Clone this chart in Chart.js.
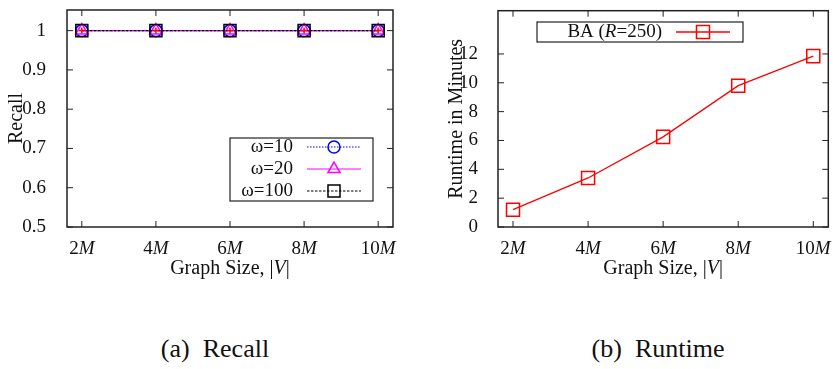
<!DOCTYPE html>
<html lang="en">
<head>
    <meta charset="UTF-8">
    <title>Recall and Runtime vs Graph Size</title>
    <script src="https://cdn.jsdelivr.net/npm/chart.js"></script>
    <style>
        body { margin: 0; background: #fff; width: 839px; height: 369px; position: relative; overflow: hidden; }
        .panel { position: absolute; top: 0; height: 300px; }
        .caption { position: absolute; top: 334px; font: 26px "Liberation Serif", "DejaVu Serif", serif; color: #111; text-align: center; width: 300px; }
    </style>
</head>
<body>

<div class="panel" style="left:0; width:420px;"><canvas id="recallChart" width="420" height="300"></canvas></div>
<div class="panel" style="left:420px; width:419px;"><canvas id="runtimeChart" width="419" height="300"></canvas></div>

<div class="caption" style="left:65px;">(a)&nbsp; Recall</div>
<div class="caption" style="left:508px;">(b)&nbsp; Runtime</div>

<script>
    // graph sizes (millions of vertices)
    const sizes = [2, 4, 6, 8, 10];
    const sizeTickLabels = ['2', '4', '6', '8', '10'];   // each followed by an italic M

    // recall for each window size
    const recallW10 = [1, 1, 1, 1, 1];
    const recallW20 = [1, 1, 1, 1, 1];
    const recallW100 = [1, 1, 1, 1, 1];
    const recallTicks = [0.5, 0.6, 0.7, 0.8, 0.9, 1];
    const recallTickLabels = ['0.5', '0.6', '0.7', '0.8', '0.9', '1'];

    // runtime of BA (R=250) in minutes
    const runtimeBA = [1.2, 3.4, 6.25, 9.8, 11.85];
    const runtimeTicks = [0, 2, 4, 6, 8, 10, 12];
    const runtimeTickLabels = ['0', '2', '4', '6', '8', '10', '12'];

    const FONT = '"Liberation Serif", "DejaVu Serif", serif';
    const INK = '#111';

    function pts(vals) {
        return sizes.map((s, i) => ({ x: s, y: vals[i] }));
    }

    // draw text made of normal / italic pieces
    function drawRuns(ctx, runs, x, y, align, size) {
        const fonts = runs.map(r => (r[1] ? 'italic ' : '') + size + 'px ' + FONT);
        const widths = runs.map((r, i) => { ctx.font = fonts[i]; return ctx.measureText(r[0]).width; });
        const total = widths.reduce((a, b) => a + b, 0);
        let cx = align === 'center' ? x - total / 2 : (align === 'right' ? x - total : x);
        ctx.textAlign = 'left';
        ctx.textBaseline = 'middle';
        ctx.fillStyle = INK;
        runs.forEach((r, i) => {
            ctx.font = fonts[i];
            ctx.fillText(r[0], cx, y);
            cx += widths[i];
        });
    }

    function marker(ctx, style, x, y, r, color) {
        ctx.save();
        ctx.strokeStyle = color;
        ctx.lineWidth = 1.5;
        ctx.setLineDash([]);
        ctx.beginPath();
        if (style === 'circle') {
            ctx.arc(x, y, r, 0, Math.PI * 2);
        } else if (style === 'rect') {
            const h = r * Math.SQRT1_2;
            ctx.rect(x - h, y - h, 2 * h, 2 * h);
        } else if (style === 'triangle') {
            const s = r * 3 / Math.sqrt(3);
            const hh = s * Math.sqrt(3) / 2;
            ctx.moveTo(x, y - 2 * hh / 3);
            ctx.lineTo(x + s / 2, y + hh / 3);
            ctx.lineTo(x - s / 2, y + hh / 3);
            ctx.closePath();
        }
        ctx.stroke();
        ctx.restore();
    }

    // gnuplot-like frame, inward ticks, italic labels, titles and boxed legend
    const gnuplotLook = {
        id: 'gnuplotLook',
        afterDraw(chart, args, opts) {
            const ctx = chart.ctx;
            const a = chart.chartArea;
            const xs = chart.scales.x, ys = chart.scales.y;
            ctx.save();

            ctx.strokeStyle = '#222';
            ctx.lineWidth = 1.5;
            ctx.strokeRect(a.left, a.top, a.right - a.left, a.bottom - a.top);

            ctx.lineWidth = 1;
            ctx.beginPath();
            sizes.forEach(s => {
                const px = xs.getPixelForValue(s);
                ctx.moveTo(px, a.bottom); ctx.lineTo(px, a.bottom - 6);
                ctx.moveTo(px, a.top); ctx.lineTo(px, a.top + 6);
            });
            ys.ticks.forEach(t => {
                const py = ys.getPixelForValue(t.value);
                ctx.moveTo(a.left, py); ctx.lineTo(a.left + 6, py);
                ctx.moveTo(a.right, py); ctx.lineTo(a.right - 6, py);
            });
            ctx.stroke();

            // x tick labels: number + italic M
            sizes.forEach((s, i) => {
                drawRuns(ctx, [[sizeTickLabels[i], false], ['M', true]], xs.getPixelForValue(s), a.bottom + 22, 'center', 19);
            });

            // x title
            drawRuns(ctx, [['Graph Size, |', false], ['V', true], ['|', false]], (a.left + a.right) / 2, a.bottom + 42, 'center', 20);

            // y title
            ctx.save();
            ctx.translate(opts.yTitleX, (a.top + a.bottom) / 2);
            ctx.rotate(-Math.PI / 2);
            drawRuns(ctx, [[opts.yTitle, false]], 0, 0, 'center', 20);
            ctx.restore();

            // legend box
            const L = opts.legend;
            ctx.strokeStyle = '#222';
            ctx.lineWidth = 1.2;
            ctx.setLineDash([]);
            ctx.strokeRect(L.box[0], L.box[1], L.box[2], L.box[3]);
            L.rows.forEach((row, i) => {
                const ds = chart.data.datasets[i];
                const y = L.y[i];
                drawRuns(ctx, row, L.textRight, y, 'right', 19);
                ctx.save();
                ctx.strokeStyle = ds.borderColor;
                ctx.lineWidth = ds.borderWidth;
                ctx.setLineDash(ds.borderDash || []);
                ctx.beginPath();
                ctx.moveTo(L.line[0], y); ctx.lineTo(L.line[1], y);
                ctx.stroke();
                ctx.restore();
                marker(ctx, ds.pointStyle, (L.line[0] + L.line[1]) / 2, y, ds.pointRadius, ds.borderColor);
            });

            ctx.restore();
        }
    };

    // fixed y-axis width, and no extra room reserved for the end labels
    function fixY(width) {
        return function (scale) {
            scale.width = width;
            scale.paddingTop = 0;
            scale.paddingBottom = 0;
        };
    }

    const baseX = {
        type: 'linear',
        min: 1.6,
        max: 10.4,
        grid: { display: false },
        border: { display: false },
        ticks: { display: false },
        afterFit: scale => {
            scale.height = 73;
            scale.paddingLeft = 0;
            scale.paddingRight = 0;
        }
    };

    new Chart(document.getElementById('recallChart'), {
        type: 'line',
        data: {
            datasets: [
                { label: 'ω=10', data: pts(recallW10), borderColor: '#0000ff', borderWidth: 1.2, borderDash: [1.5, 1.5],
                  pointStyle: 'circle', pointRadius: 6, pointBorderWidth: 1.5, pointBackgroundColor: 'rgba(0,0,0,0)', order: 3 },
                { label: 'ω=20', data: pts(recallW20), borderColor: '#ff00ff', borderWidth: 1.2,
                  pointStyle: 'triangle', pointRadius: 7, pointBorderWidth: 1.5, pointBackgroundColor: 'rgba(0,0,0,0)', order: 2 },
                { label: 'ω=100', data: pts(recallW100), borderColor: '#000000', borderWidth: 1.2, borderDash: [2.5, 1.5],
                  pointStyle: 'rect', pointRadius: 8.5, pointBorderWidth: 1.5, pointBackgroundColor: 'rgba(0,0,0,0)', order: 1 },
                { label: '', data: pts(recallW10), borderColor: '#ff0000', showLine: false,
                  pointStyle: 'cross', pointRadius: 3, pointBorderWidth: 1.5, order: 0 }
            ]
        },
        options: {
            responsive: false,
            animation: false,
            layout: { padding: { top: 5, right: 27, left: 0, bottom: 0 } },
            plugins: {
                legend: { display: false },
                tooltip: { enabled: false },
                gnuplotLook: {
                    yTitle: 'Recall',
                    yTitleX: 17,
                    legend: {
                        box: [230, 138, 143, 63],
                        textRight: 293,
                        line: [307, 361],
                        y: [147, 169, 191],
                        rows: [[['ω=10', false]], [['ω=20', false]], [['ω=100', false]]]
                    }
                }
            },
            scales: {
                x: baseX,
                y: {
                    min: 0.5,
                    max: 1.0525,
                    grid: { display: false },
                    border: { display: false },
                    afterBuildTicks: scale => { scale.ticks = recallTicks.map(v => ({ value: v })); },
                    afterFit: fixY(67),
                    ticks: {
                        padding: 13,
                        color: INK,
                        font: { family: FONT, size: 19 },
                        callback: (v) => recallTickLabels[recallTicks.indexOf(v)]
                    }
                }
            }
        },
        plugins: [gnuplotLook]
    });

    new Chart(document.getElementById('runtimeChart'), {
        type: 'line',
        data: {
            datasets: [
                { label: 'BA (R=250)', data: pts(runtimeBA), borderColor: '#ff0000', borderWidth: 1.3,
                  pointStyle: 'rect', pointRadius: 9.2, pointBorderWidth: 1.5, pointBackgroundColor: 'rgba(0,0,0,0)' }
            ]
        },
        options: {
            responsive: false,
            animation: false,
            layout: { padding: { top: 5, right: 5, left: 0, bottom: 0 } },
            plugins: {
                legend: { display: false },
                tooltip: { enabled: false },
                gnuplotLook: {
                    yTitle: 'Runtime in Minutes',
                    yTitleX: 37,
                    legend: {
                        box: [117, 22, 206, 20],
                        textRight: 242,
                        line: [256, 310],
                        y: [32],
                        rows: [[['BA (', false], ['R', true], ['=250)', false]]]
                    }
                }
            },
            scales: {
                x: baseX,
                y: {
                    min: 0,
                    max: 15,
                    grid: { display: false },
                    border: { display: false },
                    afterBuildTicks: scale => { scale.ticks = runtimeTicks.map(v => ({ value: v })); },
                    afterFit: fixY(78),
                    ticks: {
                        padding: 12,
                        color: INK,
                        font: { family: FONT, size: 19 },
                        callback: (v) => runtimeTickLabels[runtimeTicks.indexOf(v)]
                    }
                }
            }
        },
        plugins: [gnuplotLook]
    });
</script>

</body>
</html>
